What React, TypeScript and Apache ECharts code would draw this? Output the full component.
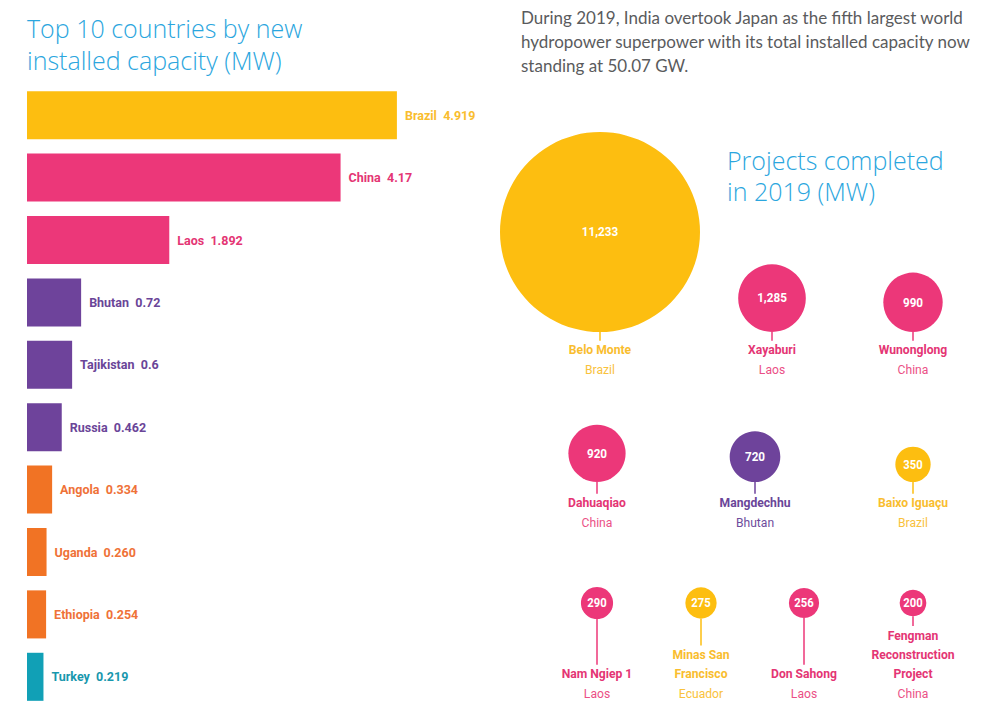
import React, { useEffect, useRef } from "react";
import * as echarts from "echarts";

// ---- Bar chart data ----
const countries = ["Brazil", "China", "Laos", "Bhutan", "Tajikistan", "Russia", "Angola", "Uganda", "Ethiopia", "Turkey"];
const capacityGW = [4.919, 4.17, 1.892, 0.72, 0.6, 0.462, 0.334, 0.26, 0.254, 0.219];
const capacityLabels = ["4.919", "4.17", "1.892", "0.72", "0.6", "0.462", "0.334", "0.260", "0.254", "0.219"];
const barColorKeys = ["yellow", "pink", "pink", "purple", "purple", "purple", "orange", "orange", "orange", "teal"];

// ---- Projects data ----
const projectNames = ["Belo Monte", "Xayaburi", "Wunonglong", "Dahuaqiao", "Mangdechhu", "Baixo Iguaçu", "Nam Ngiep 1", "Minas San\nFrancisco", "Don Sahong", "Fengman\nReconstruction\nProject"];
const projectCountries = ["Brazil", "Laos", "China", "China", "Bhutan", "Brazil", "Laos", "Ecuador", "Laos", "China"];
const projectMW = [11233, 1285, 990, 920, 720, 350, 290, 275, 256, 200];
const projectColorKeys = ["yellow", "pink", "pink", "pink", "purple", "yellow", "pink", "yellow", "pink", "pink"];

// ---- Text ----
const leftTitleLines = ["Top 10 countries by new", "installed capacity (MW)"];
const rightTitleLines = ["Projects completed", "in 2019 (MW)"];
const introLines = [
  "During 2019, India overtook Japan as the fifth largest world",
  "hydropower superpower with its total installed capacity now",
  "standing at 50.07 GW.",
];

const COLORS: Record<string, { bar: string; text: string; light: string }> = {
  yellow: { bar: "#FDBE10", text: "#F9BD2E", light: "#F9C23C" },
  pink: { bar: "#EC3779", text: "#E43574", light: "#EB4F86" },
  purple: { bar: "#6E439B", text: "#6A4598", light: "#6E4C9C" },
  orange: { bar: "#F17324", text: "#EF7238", light: "#F07A40" },
  teal: { bar: "#11A0B6", text: "#1897AD", light: "#1897AD" },
};

// layout slots for the bubbles (row, column x)
const projectRow = [0, 0, 0, 1, 1, 1, 2, 2, 2, 2];
const projectColX = [600, 772, 913, 597, 755, 913, 597, 701, 804, 913];

const COND = "Roboto, sans-serif";
const TITLE_FONT = "'Open Sans', sans-serif";

export default function App() {
  const ref = useRef<HTMLDivElement>(null);
  useEffect(() => {
    if (!ref.current) return;
    const chart = echarts.init(ref.current, null, { renderer: "svg" });
    const maxMW = Math.max(...projectMW);
    const maxR = 100;
    const rowCountryY = [369, 522, 693];
    const rowBubbleBottom = [332, 482, null as number | null];
    const row3Center = 603;
    const lineH = 19.3;
    const SX = 0.9;

    const graphic: any[] = [];
    leftTitleLines.forEach((t, k) =>
      graphic.push({ type: "text", x: 27, y: 28 + k * 32, style: { text: t, fill: "#2BA6DE", font: `300 25px ${TITLE_FONT}`, verticalAlign: "middle" } })
    );
    rightTitleLines.forEach((t, k) =>
      graphic.push({ type: "text", x: 727, y: 160 + k * 31, style: { text: t, fill: "#2BA6DE", font: `300 25px ${TITLE_FONT}`, verticalAlign: "middle" } })
    );
    introLines.forEach((t, k) =>
      graphic.push({ type: "text", x: 521, y: 17 + k * 24, style: { text: t, fill: "#5A5B5D", font: `17px 'Lato', sans-serif`, verticalAlign: "middle" } })
    );

    const option: any = {
      animation: false,
      backgroundColor: "#ffffff",
      grid: [{ left: 27, top: 84, width: 376, height: 624, containLabel: false }],
      xAxis: [{ type: "value", min: 0, max: 5, show: false, gridIndex: 0 }],
      yAxis: [{ type: "category", data: countries, inverse: true, show: false, gridIndex: 0 }],
      graphic,
      series: [
        {
          type: "bar",
          xAxisIndex: 0, yAxisIndex: 0,
          barCategoryGap: "23%",
          data: capacityGW.map((v, i) => ({
            value: v,
            itemStyle: { color: COLORS[barColorKeys[i]].bar },
            label: { color: COLORS[barColorKeys[i]].text },
          })),
          label: {
            show: true, position: "right", distance: 8,
            fontFamily: COND, fontWeight: "bold", fontSize: 12.5,
            formatter: (p: any) => `${countries[p.dataIndex]}  ${capacityLabels[p.dataIndex]}`,
          },
        },
        {
          type: "custom",
          coordinateSystem: "none",
          data: projectMW.map((v) => [v]),
          renderItem: (params: any, api: any) => {
            const i = params.dataIndex;
            const v = api.value(0);
            const r = maxR * Math.sqrt(v / maxMW);
            const row = projectRow[i];
            const cx = projectColX[i];
            const c = COLORS[projectColorKeys[i]];
            const bottom = rowBubbleBottom[row];
            const cy = bottom != null ? bottom - r : row3Center;
            const nameLines = projectNames[i].split("\n");
            const countryY = rowCountryY[row];
            const firstNameY = countryY - lineH * nameLines.length;
            const lineEnd = firstNameY - 9;
            const children: any[] = [
              { type: "line", shape: { x1: cx, y1: cy + r, x2: cx, y2: lineEnd }, style: { stroke: c.bar, lineWidth: 1.5 } },
              { type: "circle", shape: { cx, cy, r }, style: { fill: c.bar } },
              {
                type: "text", x: cx, y: cy, scaleX: SX,
                style: {
                  x: 0, y: 0, text: v.toLocaleString("en-US"), align: "center", verticalAlign: "middle",
                  fill: "#ffffff", font: `bold ${r > 20 ? 13 : 12.5}px ${COND}`,
                },
              },
            ];
            nameLines.forEach((ln, k) => {
              children.push({
                type: "text", x: cx, y: firstNameY + k * lineH, scaleX: SX,
                style: { x: 0, y: 0, text: ln, align: "center", verticalAlign: "middle", fill: c.text, font: `bold 13.5px ${COND}` },
              });
            });
            children.push({
              type: "text", x: cx, y: countryY, scaleX: SX,
              style: { x: 0, y: 0, text: projectCountries[i], align: "center", verticalAlign: "middle", fill: c.light, font: `13.5px ${COND}` },
            });
            return { type: "group", children };
          },
        },
      ],
    };
    chart.setOption(option);
    return () => chart.dispose();
  }, []);
  return <div ref={ref} style={{ position: "absolute", left: 0, top: 0, width: 996, height: 723 }} />;
}
